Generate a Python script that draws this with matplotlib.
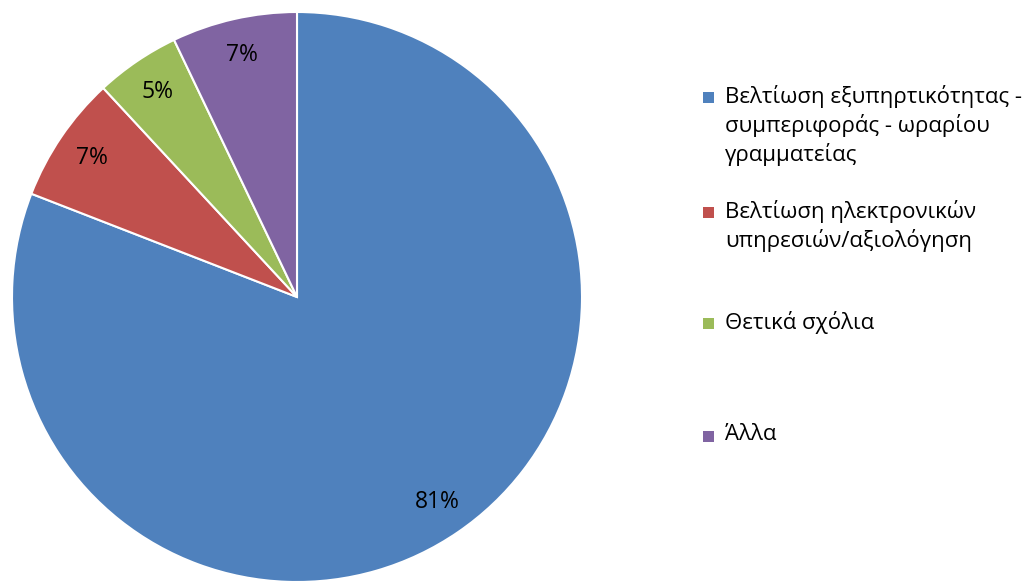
import matplotlib
matplotlib.use("Agg")
import matplotlib.pyplot as plt
from matplotlib.patches import Rectangle

plt.rcParams["font.family"] = ["Open Sans", "DejaVu Sans"]

# data
labels = [
    "Βελτίωση εξυπηρτικότητας -\nσυμπεριφοράς - ωραρίου\nγραμματείας",
    "Βελτίωση ηλεκτρονικών\nυπηρεσιών/αξιολόγηση",
    "Θετικά σχόλια",
    "Άλλα",
]
shares = [80.9, 7.2, 4.8, 7.1]
colors = ["#4F81BD", "#C0504D", "#9BBB59", "#8064A2"]

W, H = 1035, 583
fig = plt.figure(figsize=(W / 100, H / 100), dpi=100)

cx, cy, r = 297, 297, 285
ax = fig.add_axes([(cx - r) / W, (H - cy - r) / H, 2 * r / W, 2 * r / H])
wedges, _, autotexts = ax.pie(
    shares, colors=colors, startangle=90, counterclock=False,
    autopct="%.0f%%", pctdistance=0.87,
    wedgeprops=dict(edgecolor="white", linewidth=1.5),
    textprops=dict(fontsize=16.5, color="black"),
)
ax.set_aspect("equal")
ax.set_xlim(-1, 1)
ax.set_ylim(-1, 1)

# legend drawn by hand to match the spacing of the original
legend_y = [97, 212, 323, 436]
for lab, col, y in zip(labels, colors, legend_y):
    fig.patches.append(Rectangle((703 / W, (H - y - 5.5) / H), 11 / W, 11 / H,
                                 transform=fig.transFigure, facecolor=col,
                                 edgecolor="none"))
    # first text line centred on the marker
    fig.text(725 / W, (H - y + 12) / H, lab, fontsize=16, va="top",
             ha="left", linespacing=1.32, transform=fig.transFigure)

fig.savefig("out.png", dpi=100)
